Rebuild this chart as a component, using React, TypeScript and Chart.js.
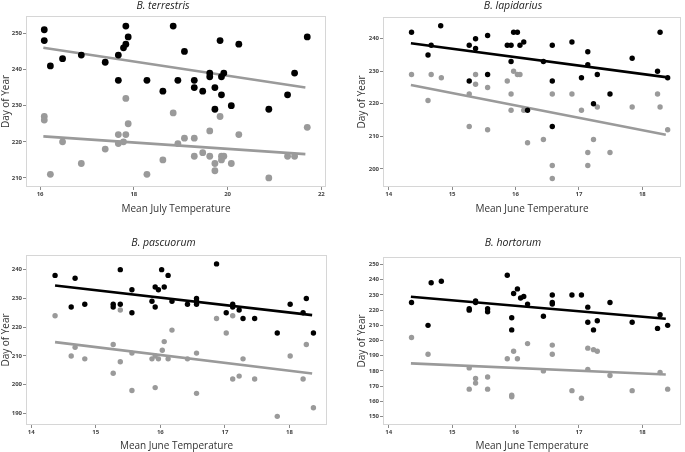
import React, { useEffect, useRef } from "react";
import { Chart, registerables } from "chart.js";

Chart.register(...registerables);

// ---------- data ----------
// B. terrestris (Mean July Temperature)
const terrTempLate = [16.09, 16.09, 16.22, 16.48, 16.88, 17.39, 17.67, 17.67, 17.78, 17.83, 17.83, 17.88, 18.28, 18.62, 18.84, 18.94, 19.08, 19.29, 19.29, 19.47, 19.62, 19.62, 19.73, 19.73, 19.84, 19.87, 19.87, 19.92, 20.08, 20.24, 20.88, 21.28, 21.43, 21.7];
const terrDayLate = [251, 248, 241, 243, 244, 242, 244, 237, 246, 252, 247, 249, 237, 234, 252, 237, 245, 237, 235, 234, 239, 238, 235, 229, 248, 233, 238, 239, 230, 247, 229, 233, 239, 249];
const terrTempEarly = [16.09, 16.09, 16.22, 16.48, 16.88, 17.39, 17.67, 17.67, 17.78, 17.83, 17.83, 17.88, 18.28, 18.62, 18.84, 18.94, 19.08, 19.29, 19.29, 19.47, 19.62, 19.62, 19.73, 19.73, 19.84, 19.87, 19.87, 19.92, 20.08, 20.24, 20.88, 21.28, 21.43, 21.7];
const terrDayEarly = [227, 226, 211, 220, 214, 218, 222, 219.5, 220, 232, 222, 225, 211, 215, 228, 219.5, 221, 221, 216, 217, 223, 216, 214, 212, 227, 216, 215, 216, 214, 222, 210, 216, 216, 224];
const terrFitTemp = [16.07, 21.66];
const terrFitLate = [246.0, 235.0];
const terrFitEarly = [221.5, 216.6];

// B. lapidarius (Mean June Temperature)
const lapiTempLate = [14.36, 14.82, 14.67, 14.62, 15.27, 15.37, 15.37, 15.56, 15.56, 15.27, 15.87, 15.93, 15.93, 15.97, 16.03, 16.07, 16.13, 16.19, 16.58, 16.89, 17.14, 16.44, 16.58, 17.14, 17.04, 17.29, 17.49, 17.23, 16.58, 17.84, 18.28, 18.24, 18.4];
const lapiDayLate = [242, 244, 238, 235, 238, 240, 237, 241, 229, 227, 238, 238, 233, 242, 242, 238, 239, 218, 238, 239, 236, 233, 227, 232, 228, 229, 223, 220, 213, 234, 242, 230, 228];
const lapiTempEarly = [14.36, 14.62, 14.67, 14.83, 15.27, 15.37, 15.37, 15.56, 15.27, 15.56, 15.87, 15.93, 15.93, 15.97, 16.03, 16.07, 16.13, 16.19, 16.58, 16.89, 16.44, 16.58, 16.58, 17.04, 17.14, 17.14, 17.23, 17.29, 17.49, 17.84, 18.24, 18.28, 18.4];
const lapiDayEarly = [229, 221, 229, 228, 223, 229, 226, 225, 213, 212, 227, 223, 218, 230, 229, 229, 218, 208, 223, 223, 209, 201, 197, 218, 205, 201, 209, 219, 205, 219, 223, 219, 212];
const lapiFitTemp = [14.35, 18.37];
const lapiFitLate = [238.6, 228.2];
const lapiFitEarly = [225.8, 210.5];

// B. pascuorum (Mean June Temperature)
const pascTempLate = [14.37, 14.68, 14.62, 14.83, 15.27, 15.27, 15.38, 15.38, 15.56, 15.56, 15.87, 15.92, 15.97, 15.92, 16.02, 16.06, 16.12, 16.18, 16.42, 16.56, 16.56, 16.56, 16.87, 17.02, 17.12, 17.12, 17.22, 17.28, 17.46, 17.81, 18.01, 18.21, 18.26, 18.37];
const pascDayLate = [238, 237, 227, 228, 228, 227, 240, 228, 233, 225, 229, 234, 233, 227, 240, 234, 238, 229, 228, 230, 229, 228, 242, 225, 228, 227, 226, 223, 223, 218, 228, 225, 230, 218];
const pascTempEarly = [14.37, 14.62, 14.68, 14.83, 15.27, 15.27, 15.38, 15.38, 15.56, 15.56, 15.87, 15.92, 15.97, 15.92, 16.03, 16.06, 16.12, 16.18, 16.42, 16.56, 16.56, 16.87, 17.02, 17.12, 17.12, 17.22, 17.28, 17.46, 17.81, 18.01, 18.21, 18.26, 18.37];
const pascDayEarly = [224, 210, 213, 209, 214, 204, 226, 208, 211, 198, 209, 210, 209, 199, 212, 215, 209, 219, 209, 211, 197, 223, 218, 224, 202, 203, 209, 202, 189, 210, 202, 214, 192];
const pascFitTemp = [14.37, 18.35];
const pascFitLate = [234.5, 224.2];
const pascFitEarly = [214.8, 203.9];

// B. hortorum (Mean June Temperature)
const hortTempLate = [14.36, 14.62, 14.67, 14.83, 15.27, 15.27, 15.37, 15.37, 15.56, 15.56, 15.87, 15.94, 15.94, 15.97, 16.03, 16.08, 16.13, 16.19, 16.44, 16.58, 16.58, 16.58, 16.89, 17.04, 17.14, 17.14, 17.23, 17.29, 17.49, 17.84, 18.24, 18.28, 18.4];
const hortDayLate = [225, 210, 238, 239, 221, 220, 226, 225, 221, 219, 243, 215, 207, 231, 234, 228, 229, 224, 216, 230, 225, 224, 230, 230, 222, 212, 207, 213, 225, 212, 208, 217, 210];
const hortTempEarly = [14.36, 14.62, 15.27, 15.27, 15.37, 15.37, 15.56, 15.56, 15.87, 15.94, 15.94, 15.97, 16.03, 16.19, 16.58, 16.58, 16.44, 16.89, 17.04, 17.14, 17.14, 17.23, 17.29, 17.49, 17.84, 18.28, 18.4];
const hortDayEarly = [202, 191, 182, 168, 175, 172, 176, 168, 188, 164, 163, 193, 188, 198, 197, 191, 180, 167, 162, 195, 181, 194, 193, 177, 167, 179, 168];
const hortFitTemp = [14.35, 18.37];
const hortFitLate = [228.8, 214.3];
const hortFitEarly = [185.0, 177.6];

// tick labels
const julyTicks = [16, 18, 20, 22];
const juneTicks = [14, 15, 16, 17, 18];
const terrDayTicks = [210, 220, 230, 240, 250];
const lapiDayTicks = [200, 210, 220, 230, 240];
const pascDayTicks = [190, 200, 210, 220, 230, 240];
const hortDayTicks = [150, 160, 170, 180, 190, 200, 210, 220, 230, 240, 250];

const FONT = "'Open Sans', 'DejaVu Sans', sans-serif";
const BLACK = "#000000";
const GREY = "#9a9a9a";

const pts = (xs: number[], ys: number[]) => xs.map((x, i) => ({ x, y: ys[i] }));

type PanelCfg = {
  title: string;
  xTitle: string;
  left: number;
  top: number;
  width: number;
  height: number;
  areaLeft: number;
  areaTop: number;
  areaRight: number;
  areaBottom: number;
  titlePadTop: number;
  yTitlePad: number;
  xTitlePad: number;
  xMin: number;
  xMax: number;
  yMin: number;
  yMax: number;
  xTicks: number[];
  yTicks: number[];
  late: { x: number; y: number }[];
  early: { x: number; y: number }[];
  fitLate: { x: number; y: number }[];
  fitEarly: { x: number; y: number }[];
  lateLineColor: string;
  lateRadius: number;
  earlyRadius: number;
};

const framePlugin = {
  id: "frame",
  beforeDatasetsDraw(chart: any) {
    const { ctx, chartArea: a } = chart;
    ctx.save();
    ctx.strokeStyle = "#d6d6d6";
    ctx.lineWidth = 1;
    ctx.strokeRect(Math.round(a.left) + 0.5, Math.round(a.top) + 0.5, Math.round(a.right - a.left) - 1, Math.round(a.bottom - a.top) - 1);
    ctx.restore();
  },
};

function Panel({ cfg }: { cfg: PanelCfg }) {
  const ref = useRef<HTMLCanvasElement>(null);
  useEffect(() => {
    if (!ref.current) return;
    const titleFont = 10.5;
    const titleLH = titleFont * 1.2;
    const titlePadBottom = cfg.areaTop - cfg.titlePadTop - titleLH;
    const chart = new Chart(ref.current, {
      type: "scatter",
      data: {
        datasets: [
          { data: cfg.late, backgroundColor: BLACK, borderColor: BLACK, pointRadius: cfg.lateRadius, pointBorderWidth: 0 },
          { data: cfg.early, backgroundColor: GREY, borderColor: GREY, pointRadius: cfg.earlyRadius, pointBorderWidth: 0 },
          { data: cfg.fitLate, showLine: true, borderColor: cfg.lateLineColor, borderWidth: 2.6, pointRadius: 0, fill: false },
          { data: cfg.fitEarly, showLine: true, borderColor: GREY, borderWidth: 2.6, pointRadius: 0, fill: false },
        ] as any,
      },
      options: {
        responsive: false,
        animation: false,
        devicePixelRatio: 1,
        layout: { padding: { left: 0, top: 0, right: cfg.width - cfg.areaRight, bottom: 0 } },
        plugins: {
          legend: { display: false },
          tooltip: { enabled: false },
          title: {
            display: true,
            text: cfg.title,
            color: "#222",
            font: { family: FONT, size: titleFont, style: "italic", weight: "normal" },
            padding: { top: cfg.titlePadTop, bottom: titlePadBottom },
          },
        },
        scales: {
          x: {
            type: "linear",
            min: cfg.xMin,
            max: cfg.xMax,
            afterBuildTicks: (axis: any) => {
              axis.ticks = cfg.xTicks.map((v) => ({ value: v }));
            },
            afterFit: (axis: any) => {
              axis.height = cfg.height - cfg.areaBottom;
            },
            border: { display: false },
            grid: { drawOnChartArea: false, drawTicks: true, tickLength: 3, color: "#8a8a8a" },
            ticks: {
              color: "#444",
              font: { family: FONT, size: 6, weight: "bold" },
              padding: 1,
              maxRotation: 0,
              callback: (v: any) => String(v),
            },
            title: {
              display: true,
              text: cfg.xTitle,
              color: "#333",
              font: { family: FONT, size: 10 },
              padding: { top: 0, bottom: cfg.xTitlePad },
            },
          },
          y: {
            type: "linear",
            min: cfg.yMin,
            max: cfg.yMax,
            afterBuildTicks: (axis: any) => {
              axis.ticks = cfg.yTicks.map((v) => ({ value: v }));
            },
            afterFit: (axis: any) => {
              axis.width = cfg.areaLeft;
            },
            border: { display: false },
            grid: { drawOnChartArea: false, drawTicks: true, tickLength: 3, color: "#8a8a8a" },
            ticks: {
              color: "#444",
              font: { family: FONT, size: 6, weight: "bold" },
              padding: 1,
              callback: (v: any) => String(v),
            },
            title: {
              display: true,
              text: "Day of Year",
              color: "#333",
              font: { family: FONT, size: 10 },
              padding: { top: cfg.yTitlePad, bottom: 0 },
            },
          },
        },
      } as any,
      plugins: [framePlugin],
    });
    return () => chart.destroy();
  }, [cfg]);
  return (
    <canvas
      ref={ref}
      width={cfg.width}
      height={cfg.height}
      style={{ position: "absolute", left: cfg.left, top: cfg.top, width: cfg.width, height: cfg.height }}
    />
  );
}

const panels: PanelCfg[] = [
  {
    title: "B. terrestris", xTitle: "Mean July Temperature",
    left: 0, top: 0, width: 342, height: 226,
    areaLeft: 26, areaTop: 16, areaRight: 326, areaBottom: 187,
    titlePadTop: 0, yTitlePad: 0, xTitlePad: 11,
    xMin: 15.7, xMax: 22.1, yMin: 207.5, yMax: 254.8,
    xTicks: julyTicks, yTicks: terrDayTicks,
    late: pts(terrTempLate, terrDayLate), early: pts(terrTempEarly, terrDayEarly),
    fitLate: pts(terrFitTemp, terrFitLate), fitEarly: pts(terrFitTemp, terrFitEarly),
    lateLineColor: GREY, lateRadius: 3.4, earlyRadius: 3.4,
  },
  {
    title: "B. lapidarius", xTitle: "Mean June Temperature",
    left: 342, top: 0, width: 343, height: 226,
    areaLeft: 41, areaTop: 17, areaRight: 342, areaBottom: 187,
    titlePadTop: 0, yTitlePad: 14, xTitlePad: 11,
    xMin: 13.91, xMax: 18.61, yMin: 194.4, yMax: 246.7,
    xTicks: juneTicks, yTicks: lapiDayTicks,
    late: pts(lapiTempLate, lapiDayLate), early: pts(lapiTempEarly, lapiDayEarly),
    fitLate: pts(lapiFitTemp, lapiFitLate), fitEarly: pts(lapiFitTemp, lapiFitEarly),
    lateLineColor: BLACK, lateRadius: 2.7, earlyRadius: 2.7,
  },
  {
    title: "B. pascuorum", xTitle: "Mean June Temperature",
    left: 0, top: 226, width: 342, height: 226,
    areaLeft: 26, areaTop: 29, areaRight: 327, areaBottom: 199,
    titlePadTop: 10.5, yTitlePad: 0, xTitlePad: 0,
    xMin: 13.92, xMax: 18.58, yMin: 186.0, yMax: 245.1,
    xTicks: juneTicks, yTicks: pascDayTicks,
    late: pts(pascTempLate, pascDayLate), early: pts(pascTempEarly, pascDayEarly),
    fitLate: pts(pascFitTemp, pascFitLate), fitEarly: pts(pascFitTemp, pascFitEarly),
    lateLineColor: BLACK, lateRadius: 2.7, earlyRadius: 2.7,
  },
  {
    title: "B. hortorum", xTitle: "Mean June Temperature",
    left: 342, top: 226, width: 343, height: 226,
    areaLeft: 41, areaTop: 31, areaRight: 342, areaBottom: 199,
    titlePadTop: 10.5, yTitlePad: 14, xTitlePad: 0,
    xMin: 13.91, xMax: 18.61, yMin: 144.4, yMax: 255.0,
    xTicks: juneTicks, yTicks: hortDayTicks,
    late: pts(hortTempLate, hortDayLate), early: pts(hortTempEarly, hortDayEarly),
    fitLate: pts(hortFitTemp, hortFitLate), fitEarly: pts(hortFitTemp, hortFitEarly),
    lateLineColor: BLACK, lateRadius: 2.7, earlyRadius: 2.7,
  },
];

export default function App() {
  return (
    <div style={{ position: "absolute", left: 0, top: 0, width: 685, height: 452, background: "#ffffff", overflow: "hidden" }}>
      {panels.map((p) => (
        <Panel key={p.title} cfg={p} />
      ))}
    </div>
  );
}
